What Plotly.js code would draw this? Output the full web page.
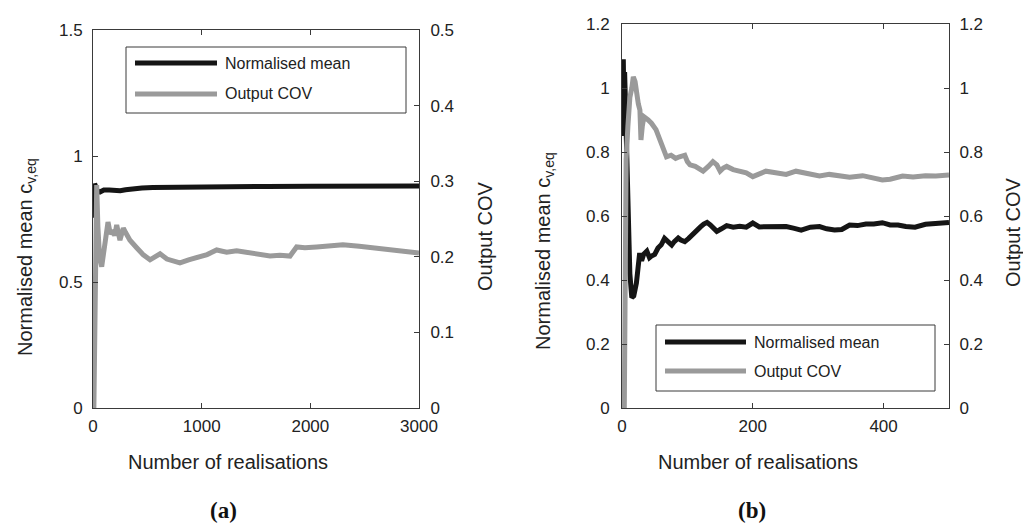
<!DOCTYPE html>
<html>
<head>
<meta charset="utf-8">
<script src="https://cdn.plot.ly/plotly-3.0.1.min.js"></script>
<style>html,body{margin:0;padding:0;background:#fff;}#chart{width:1023px;height:532px;}</style>
</head>
<body>
<div id="chart"></div>
<script>
// ---------- data: panel (a) ----------
const meanA_x = [0, 5, 10, 15, 20, 30, 45, 64, 100, 150, 200, 250, 300, 370, 450, 550, 680, 850, 1000, 1300, 1600, 2000, 2400, 2800, 3000];
const meanA_y = [0.755, 0.82, 0.88, 0.89, 0.885, 0.87, 0.86, 0.857, 0.865, 0.865, 0.862, 0.862, 0.866, 0.87, 0.873, 0.875, 0.876, 0.877, 0.878, 0.879, 0.879, 0.880, 0.880, 0.880, 0.881];
const covA_x = [8, 12, 16, 20, 25, 34, 45, 60, 80, 100, 120, 138, 160, 184, 200, 218, 248, 279, 300, 340, 402, 460, 525, 570, 617, 680, 740, 800, 880, 985, 1050, 1138, 1230, 1322, 1450, 1629, 1720, 1813, 1874, 1950, 2058, 2181, 2300, 2450, 2580, 2700, 2850, 3000];
const covA_y = [0, 0.05, 0.15, 0.22, 0.27, 0.295, 0.24, 0.2, 0.187, 0.21, 0.235, 0.246, 0.23, 0.235, 0.228, 0.242, 0.222, 0.238, 0.232, 0.222, 0.212, 0.203, 0.196, 0.2, 0.204, 0.197, 0.194, 0.192, 0.196, 0.2, 0.203, 0.209, 0.206, 0.208, 0.205, 0.201, 0.202, 0.201, 0.213, 0.212, 0.213, 0.215, 0.216, 0.214, 0.212, 0.209, 0.207, 0.205];

// ---------- data: panel (b) ----------
const meanB_x = [1, 2, 3, 4, 5, 7, 10, 12, 15, 18, 22, 25, 27, 30, 33, 38, 42, 45, 50, 55, 60, 65, 70, 76, 80, 86, 90, 96, 102, 109, 115, 120, 125, 130, 135, 140, 145, 152, 160, 170, 180, 190, 200, 210, 220, 235, 251, 262, 274, 288, 302, 313, 325, 336, 348, 360, 373, 385, 398, 410, 422, 434, 448, 464, 480, 495, 500];
const meanB_y = [0.85, 1.09, 0.92, 1.05, 0.98, 0.8, 0.6, 0.42, 0.345, 0.35, 0.39, 0.45, 0.484, 0.46, 0.48, 0.49, 0.47, 0.475, 0.48, 0.5, 0.51, 0.53, 0.52, 0.509, 0.52, 0.531, 0.525, 0.52, 0.53, 0.546, 0.555, 0.566, 0.575, 0.58, 0.572, 0.56, 0.552, 0.56, 0.57, 0.565, 0.568, 0.565, 0.578, 0.566, 0.567, 0.565, 0.567, 0.562, 0.556, 0.565, 0.567, 0.56, 0.556, 0.558, 0.572, 0.57, 0.575, 0.575, 0.579, 0.572, 0.572, 0.567, 0.565, 0.574, 0.575, 0.579, 0.58];
const covB_x = [3.5, 4.5, 5.2, 6.3, 9, 12, 15, 17.3, 20, 22.4, 25, 27.4, 29, 31, 33.5, 40, 45, 52, 58, 63, 68, 75, 82, 88, 96, 100, 104, 112, 118, 124, 132, 139, 145, 150, 155, 160, 170, 180, 190, 200, 210, 220, 235, 251, 266, 280, 302, 317, 333, 348, 368, 385, 398, 410, 429, 445, 464, 480, 495, 500];
const covB_y = [0, 0.35, 0.69, 0.775, 0.88, 0.97, 1.0, 1.035, 1.02, 0.97, 0.95, 0.931, 0.8375, 0.88, 0.91, 0.9, 0.89, 0.87, 0.8375, 0.81, 0.785, 0.79, 0.78, 0.785, 0.79, 0.77, 0.76, 0.755, 0.745, 0.74, 0.755, 0.77, 0.76, 0.74, 0.75, 0.755, 0.745, 0.74, 0.735, 0.723, 0.73, 0.74, 0.735, 0.73, 0.74, 0.735, 0.725, 0.73, 0.727, 0.721, 0.726, 0.72, 0.7125, 0.715, 0.725, 0.722, 0.726, 0.725, 0.728, 0.728];

// ---------- labels ----------
const seriesNames = ['Normalised mean', 'Output COV'];
const xTitle = 'Number of realisations';
const yLeftTitle = 'Normalised mean c<sub>v,eq</sub>';
const yRightTitle = 'Output COV';
const panelLabels = ['(a)', '(b)'];

// ---------- layout helpers ----------
const W = 1023, H = 532;
const px = v => v / W;
const py = v => 1 - v / H;
const BLACK = '#151515', GREY = '#9a9a9a', AXC = '#3a3a3a', TXT = '#222';
const FONT = 'Liberation Sans, Arial, Helvetica, sans-serif';

const traces = [
  {x: meanA_x, y: meanA_y, xaxis: 'x', yaxis: 'y', mode: 'lines', name: seriesNames[0], line: {color: BLACK, width: 5}},
  {x: covA_x, y: covA_y, xaxis: 'x', yaxis: 'y2', mode: 'lines', name: seriesNames[1], line: {color: GREY, width: 5}},
  {x: covB_x, y: covB_y, xaxis: 'x2', yaxis: 'y4', mode: 'lines', name: seriesNames[1], line: {color: GREY, width: 5}},
  {x: meanB_x, y: meanB_y, xaxis: 'x2', yaxis: 'y3', mode: 'lines', name: seriesNames[0], line: {color: BLACK, width: 5}}
];

const axBase = {
  showgrid: false, zeroline: false, showline: true, linecolor: AXC, linewidth: 1,
  ticks: 'inside', ticklen: 5, tickwidth: 1, tickcolor: AXC,
  tickfont: {family: FONT, size: 17, color: TXT}, fixedrange: true
};

const layout = {
  width: W, height: H, margin: {l: 0, r: 0, t: 0, b: 0},
  paper_bgcolor: '#fff', plot_bgcolor: '#fff', showlegend: false,
  xaxis: Object.assign({}, axBase, {domain: [px(93), px(419)], range: [0, 3000], dtick: 1000, anchor: 'y', mirror: 'ticks', ticklabelstandoff: 3}),
  yaxis: Object.assign({}, axBase, {domain: [py(408), py(30)], range: [0, 1.5], dtick: 0.5, anchor: 'x', ticklabelstandoff: 6}),
  yaxis2: Object.assign({}, axBase, {domain: [py(408), py(30)], range: [0, 0.5], dtick: 0.1, overlaying: 'y', side: 'right', anchor: 'x', ticklabelstandoff: 7}),
  xaxis2: Object.assign({}, axBase, {domain: [px(622), px(949)], range: [0, 500], dtick: 200, anchor: 'y3', mirror: 'ticks', ticklabelstandoff: 3}),
  yaxis3: Object.assign({}, axBase, {domain: [py(408), py(24)], range: [0, 1.2], dtick: 0.2, anchor: 'x2', ticklabelstandoff: 8}),
  yaxis4: Object.assign({}, axBase, {domain: [py(408), py(24)], range: [0, 1.2], dtick: 0.2, overlaying: 'y3', side: 'right', anchor: 'x2', ticklabelstandoff: 6}),
  shapes: [
    // legend (a)
    {type: 'rect', xref: 'paper', yref: 'paper', x0: px(126), x1: px(406), y0: py(113), y1: py(47), line: {color: AXC, width: 1}, fillcolor: '#fff'},
    {type: 'line', xref: 'paper', yref: 'paper', x0: px(135), x1: px(217), y0: py(63), y1: py(63), line: {color: BLACK, width: 5}},
    {type: 'line', xref: 'paper', yref: 'paper', x0: px(135), x1: px(217), y0: py(94), y1: py(94), line: {color: GREY, width: 5}},
    // legend (b)
    {type: 'rect', xref: 'paper', yref: 'paper', x0: px(656), x1: px(935), y0: py(391), y1: py(325), line: {color: AXC, width: 1}, fillcolor: '#fff'},
    {type: 'line', xref: 'paper', yref: 'paper', x0: px(665), x1: px(746), y0: py(342), y1: py(342), line: {color: BLACK, width: 5}},
    {type: 'line', xref: 'paper', yref: 'paper', x0: px(665), x1: px(746), y0: py(371), y1: py(371), line: {color: GREY, width: 5}}
  ],
  annotations: []
};

function ann(text, x, y, opts) {
  layout.annotations.push(Object.assign({
    text: text, xref: 'paper', yref: 'paper', x: px(x), y: py(y), showarrow: false,
    xanchor: 'center', yanchor: 'middle', font: {family: FONT, size: 20, color: TXT}
  }, opts || {}));
}
// legend texts
ann(seriesNames[0], 223, 63, {xanchor: 'left', font: {family: FONT, size: 16, color: TXT}});
ann(seriesNames[1], 223, 94, {xanchor: 'left', font: {family: FONT, size: 16, color: TXT}});
ann(seriesNames[0], 752, 342, {xanchor: 'left', font: {family: FONT, size: 16, color: TXT}});
ann(seriesNames[1], 752, 371, {xanchor: 'left', font: {family: FONT, size: 16, color: TXT}});
// axis titles
ann(xTitle, 228, 462);
ann(xTitle, 758, 462);
ann(yLeftTitle, 27, 257, {textangle: -90});
ann(yLeftTitle, 545, 251, {textangle: -90});
ann(yRightTitle, 485, 236, {textangle: -90});
ann(yRightTitle, 1013, 232, {textangle: -90});
// panel labels
ann('<b>' + panelLabels[0] + '</b>', 223, 510, {font: {family: 'Liberation Serif, Times New Roman, serif', size: 23, color: '#111'}});
ann('<b>' + panelLabels[1] + '</b>', 752, 510, {font: {family: 'Liberation Serif, Times New Roman, serif', size: 23, color: '#111'}});

// legend drawn above the lines
layout.shapes.forEach(s => s.layer = 'above');

Plotly.newPlot('chart', traces, layout, {staticPlot: true, displayModeBar: false});
</script>
</body>
</html>
